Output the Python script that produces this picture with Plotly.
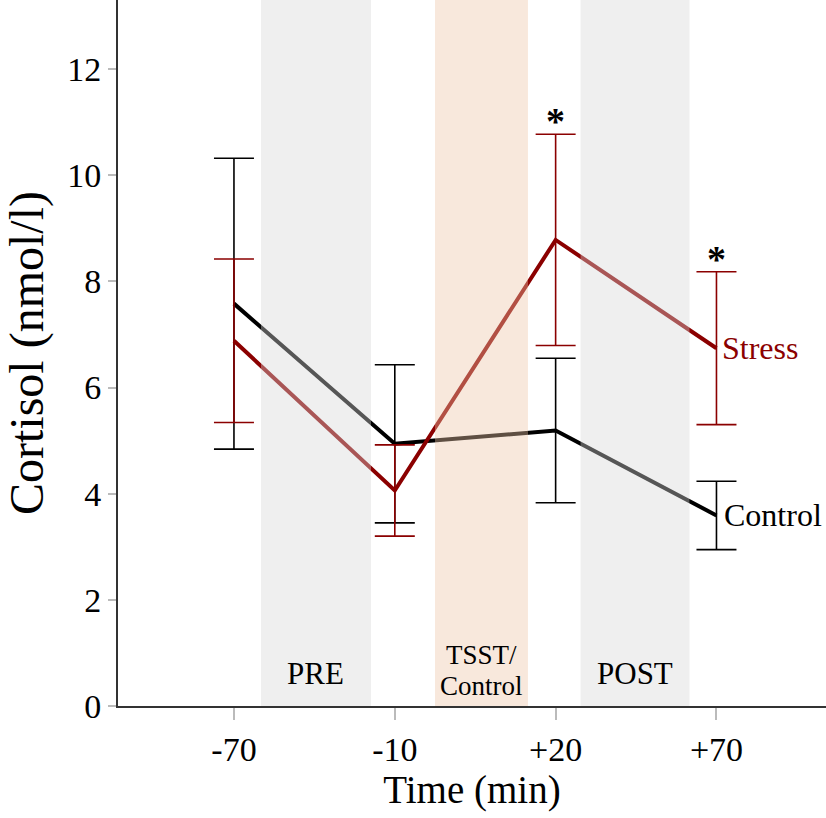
import plotly.graph_objects as go

time_labels = ["-70", "-10", "+20", "+70"]
stress_mean = [6.88, 4.06, 8.78, 6.74]
stress_err = [1.54, 0.86, 1.99, 1.44]
control_mean = [7.58, 4.94, 5.19, 3.59]
control_err = [2.74, 1.49, 1.36, 0.645]
y_ticks = [0, 2, 4, 6, 8, 10, 12]

phases = [("PRE", 0.168, 0.852, "#d6d6d6"),
          ("TSST/<br>Control", 1.25, 1.828, "#edc5a8"),
          ("POST", 2.155, 2.832, "#d6d6d6")]

RED = "#8b0000"
FONT = "Liberation Serif"
xs = list(range(len(time_labels)))

fig = go.Figure()
fig.add_trace(go.Scatter(
    x=xs, y=control_mean, mode="lines", line=dict(color="black", width=4),
    error_y=dict(type="data", array=control_err, color="black", thickness=1.6, width=20),
    showlegend=False, hoverinfo="skip"))
fig.add_trace(go.Scatter(
    x=xs, y=stress_mean, mode="lines", line=dict(color=RED, width=4),
    error_y=dict(type="data", array=stress_err, color=RED, thickness=1.6, width=20),
    showlegend=False, hoverinfo="skip"))

for name, x0, x1, col in phases:
    fig.add_shape(type="rect", xref="x", yref="paper", x0=x0, x1=x1, y0=0, y1=1,
                  fillcolor=col, opacity=0.4, line=dict(width=0), layer="above")
    xc = (x0 + x1) / 2
    if name.startswith("TSST"):
        top, bottom = name.split("<br>")
        fig.add_annotation(x=xc, y=0.97, text=top, showarrow=False, yanchor="middle",
                           font=dict(family=FONT, size=27, color="black"))
        fig.add_annotation(x=xc, y=0.37, text=bottom, showarrow=False, yanchor="middle",
                           font=dict(family=FONT, size=27, color="black"))
    else:
        fig.add_annotation(x=xc, y=0.61, text=name, showarrow=False, yanchor="middle",
                           font=dict(family=FONT, size=31, color="black"))

# significance asterisks
for i in [2, 3]:
    fig.add_annotation(x=xs[i], y=stress_mean[i] + stress_err[i], xref="x", yref="y",
                       text="<b>*</b>", showarrow=False, yanchor="bottom", yshift=-10,
                       font=dict(family=FONT, size=38, color="black"))

fig.add_annotation(x=xs[3], y=stress_mean[3], text="Stress", showarrow=False,
                   xanchor="left", xshift=4, font=dict(family=FONT, size=32, color=RED))
fig.add_annotation(x=xs[3], y=control_mean[3], text="Control", showarrow=False,
                   xanchor="left", xshift=6, font=dict(family=FONT, size=32, color="black"))

fig.update_layout(
    width=826, height=818, margin=dict(l=118, r=0, t=0, b=112),
    plot_bgcolor="white", paper_bgcolor="white",
    font=dict(family=FONT, color="black"),
    xaxis=dict(range=[-0.721, 3.681], tickvals=xs, ticktext=time_labels,
               showgrid=False, zeroline=False, showline=True, linecolor="#333", linewidth=2,
               ticks="outside", ticklen=12, tickcolor="#bbb", tickwidth=1.5,
               tickfont=dict(family=FONT, size=34),
               title=dict(text="Time (min)", font=dict(family=FONT, size=39), standoff=2)),
    yaxis=dict(range=[0, 13.3], tickvals=y_ticks,
               showgrid=False, zeroline=False, showline=True, linecolor="#333", linewidth=2,
               ticks="outside", ticklen=8, tickcolor="#bbb", tickwidth=1.5,
               tickfont=dict(family=FONT, size=34),
               title=dict(text="Cortisol (nmol/l)", font=dict(family=FONT, size=48), standoff=26)),
)

fig.write_html("out.html", config={"displayModeBar": False},
               post_script="document.body.style.margin='0';")
